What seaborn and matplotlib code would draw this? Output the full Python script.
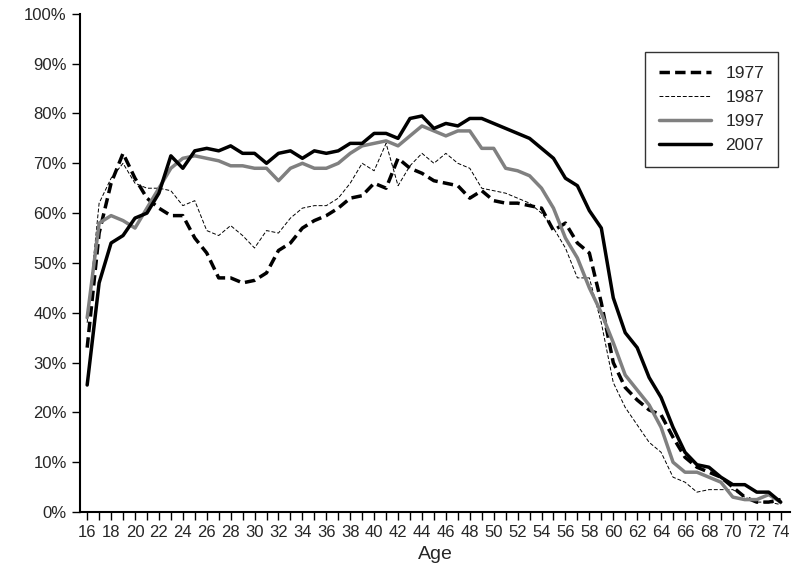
import numpy as np
import pandas as pd
import matplotlib
matplotlib.use("Agg")
import matplotlib.pyplot as plt
import seaborn as sns
from matplotlib.ticker import MultipleLocator, FuncFormatter

sns.set_style("white")
plt.rcParams['font.family'] = ['Liberation Sans', 'DejaVu Sans']

ages = list(range(16, 75))
y1977 = [33, 56, 66, 72, 67, 63, 61, 59.5, 59.5, 55, 52, 47, 47, 46, 46.5, 48, 52.5, 54, 57, 58.5,
         59.5, 61, 63, 63.5, 66, 65, 71, 69, 68, 66.5, 66, 65.5, 63, 64.5, 62.5, 62, 62, 61.5, 61, 56.5,
         58, 54, 52, 42, 30, 25, 22.5, 20.5, 19.5, 15, 11, 9, 8, 7, 5, 3, 2, 2, 2.5]
y1987 = [38, 62, 67, 70, 66, 65, 65, 64.5, 61.5, 62.5, 56.5, 55.5, 57.5, 55.5, 53, 56.5, 56, 59, 61, 61.5,
         61.5, 63, 66, 70, 68.5, 74, 65.5, 69.5, 72, 70, 72, 70, 69, 65, 64.5, 64, 63, 62, 60, 57,
         53, 47, 47, 38, 26, 21, 17.5, 14, 12, 7, 6, 4, 4.5, 4.5, 4.5, 3, 2, 2, 1.5]
y1997 = [39, 58, 59.5, 58.5, 57, 61, 65, 69, 71, 71.5, 71, 70.5, 69.5, 69.5, 69, 69, 66.5, 69, 70, 69,
         69, 70, 72, 73.5, 74, 74.5, 73.5, 75.5, 77.5, 76.5, 75.5, 76.5, 76.5, 73, 73, 69, 68.5, 67.5, 65, 61,
         55, 51, 45, 40, 34, 27.5, 24.5, 21.5, 17, 10, 8, 8, 7, 6, 3, 2.5, 2.5, 3.5, 2]
y2007 = [25.5, 46, 54, 55.5, 59, 60, 64, 71.5, 69, 72.5, 73, 72.5, 73.5, 72, 72, 70, 72, 72.5, 71, 72.5,
         72, 72.5, 74, 74, 76, 76, 75, 79, 79.5, 77, 78, 77.5, 79, 79, 78, 77, 76, 75, 73, 71,
         67, 65.5, 60.5, 57, 43, 36, 33, 27, 23, 17, 12, 9.5, 9, 7, 5.5, 5.5, 4, 4, 2]

fig, ax = plt.subplots(figsize=(8.08, 5.76), dpi=100)
fig.subplots_adjust(left=0.099, right=0.978, top=0.976, bottom=0.111)

styles = [("1977", y1977, "black", 2.5, (0, (3, 1.5))),
          ("1987", y1987, "black", 0.7, (0, (4, 2))),
          ("1997", y1997, "#808080", 2.5, "-"),
          ("2007", y2007, "black", 2.5, "-")]
for name, vals, c, lw, ls in styles:
    df = pd.DataFrame({"Age": ages, "v": np.array(vals) / 100})
    sns.lineplot(data=df, x="Age", y="v", ax=ax, color=c, lw=lw, linestyle=ls, label=name)

ax.set_xlim(15.4, 74.8)
ax.set_ylim(0, 1)
ax.xaxis.set_major_locator(MultipleLocator(2))
ax.xaxis.set_minor_locator(MultipleLocator(1))
ax.yaxis.set_major_locator(MultipleLocator(0.1))
ax.yaxis.set_major_formatter(FuncFormatter(lambda v, p: f"{v*100:.0f}%"))
ax.tick_params(axis="both", which="both", direction="out", length=6, width=1, labelsize=12, color="black")
ax.tick_params(axis="x", which="both", bottom=True)
ax.tick_params(axis="y", left=True)
ax.set_xlabel("Age", fontsize=14)
ax.set_ylabel("")
sns.despine(ax=ax)
for s in ("left", "bottom"):
    ax.spines[s].set_color("black")
    ax.spines[s].set_linewidth(1.5)

leg = ax.legend(loc="upper right", bbox_to_anchor=(0.995, 0.94), fontsize=12.5, frameon=True,
                fancybox=False, handlelength=3, borderpad=0.8, labelspacing=0.5)
leg.get_frame().set_edgecolor("black")

fig.savefig("out.png")
